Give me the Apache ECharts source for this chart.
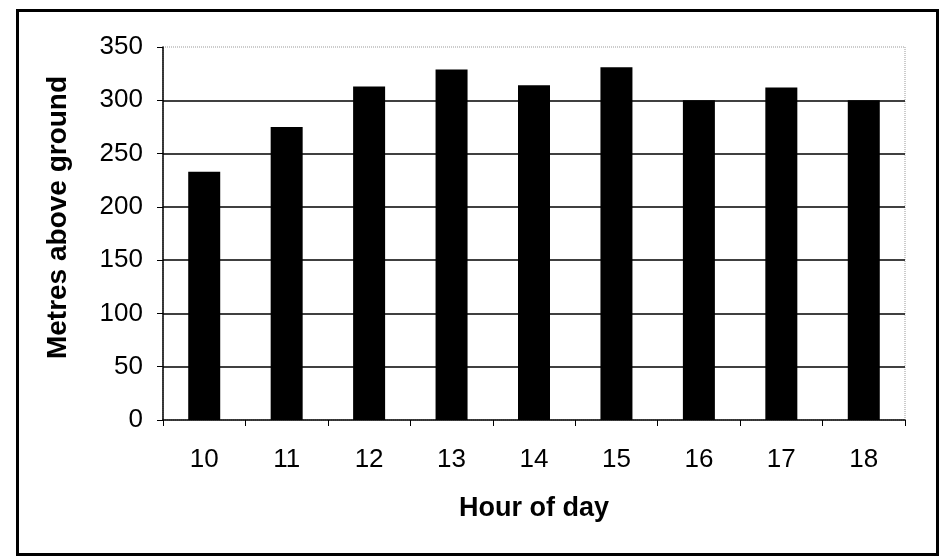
<!DOCTYPE html>
<html>
<head>
<meta charset="utf-8">
<script src="https://cdn.jsdelivr.net/npm/echarts@6/dist/echarts.min.js"></script>
<style>
html,body{margin:0;padding:0;background:#fff;}
#chart{width:944px;height:558px;}
</style>
</head>
<body>
<div id="chart"></div>
<script>
var hours = ['10', '11', '12', '13', '14', '15', '16', '17', '18'];
var heights = [233, 275, 313, 329, 314, 331, 300, 312, 300];
var xTitle = 'Hour of day';
var yTitle = 'Metres above ground';

var chart = echarts.init(document.getElementById('chart'), null, {renderer: 'canvas'});
var font = '"Liberation Sans", Arial, sans-serif';
chart.setOption({
  animation: false,
  backgroundColor: '#fff',
  graphic: [{
    type: 'rect', left: 15, top: 8, z: -1,
    shape: {width: 920, height: 544},
    style: {fill: 'none', stroke: '#000', lineWidth: 3}
  }],
  grid: {
    left: 163, right: 39, top: 47, bottom: 138,
    show: true, backgroundColor: 'transparent',
    borderColor: '#999', borderWidth: 1, borderType: 'dotted'
  },
  xAxis: {
    type: 'category',
    data: hours,
    boundaryGap: true,
    name: xTitle,
    nameLocation: 'middle',
    nameGap: 75,
    nameTextStyle: {fontFamily: font, fontSize: 27, fontWeight: 'bold', color: '#000'},
    axisLine: {lineStyle: {color: '#000', width: 1.5}},
    axisTick: {show: true, alignWithLabel: false, length: 6, lineStyle: {color: '#000', width: 1}},
    axisLabel: {fontFamily: font, fontSize: 26, color: '#000', margin: 27}
  },
  yAxis: {
    type: 'value',
    min: 0, max: 350, interval: 50,
    name: yTitle,
    nameLocation: 'middle',
    nameGap: 91,
    nameTextStyle: {fontFamily: font, fontSize: 28, fontWeight: 'bold', color: '#000', padding: [0, 0, 0, 32]},
    axisLine: {show: true, lineStyle: {color: '#000', width: 1.5}},
    axisTick: {show: true, length: 6, lineStyle: {color: '#000', width: 1}},
    axisLabel: {fontFamily: font, fontSize: 26, color: '#000', margin: 20},
    splitLine: {show: true, showMinLine: false, showMaxLine: false, lineStyle: {color: '#000', width: 1.5}}
  },
  series: [{
    type: 'bar',
    data: heights,
    barWidth: 32,
    itemStyle: {color: '#000'}
  }]
});
</script>
</body>
</html>
